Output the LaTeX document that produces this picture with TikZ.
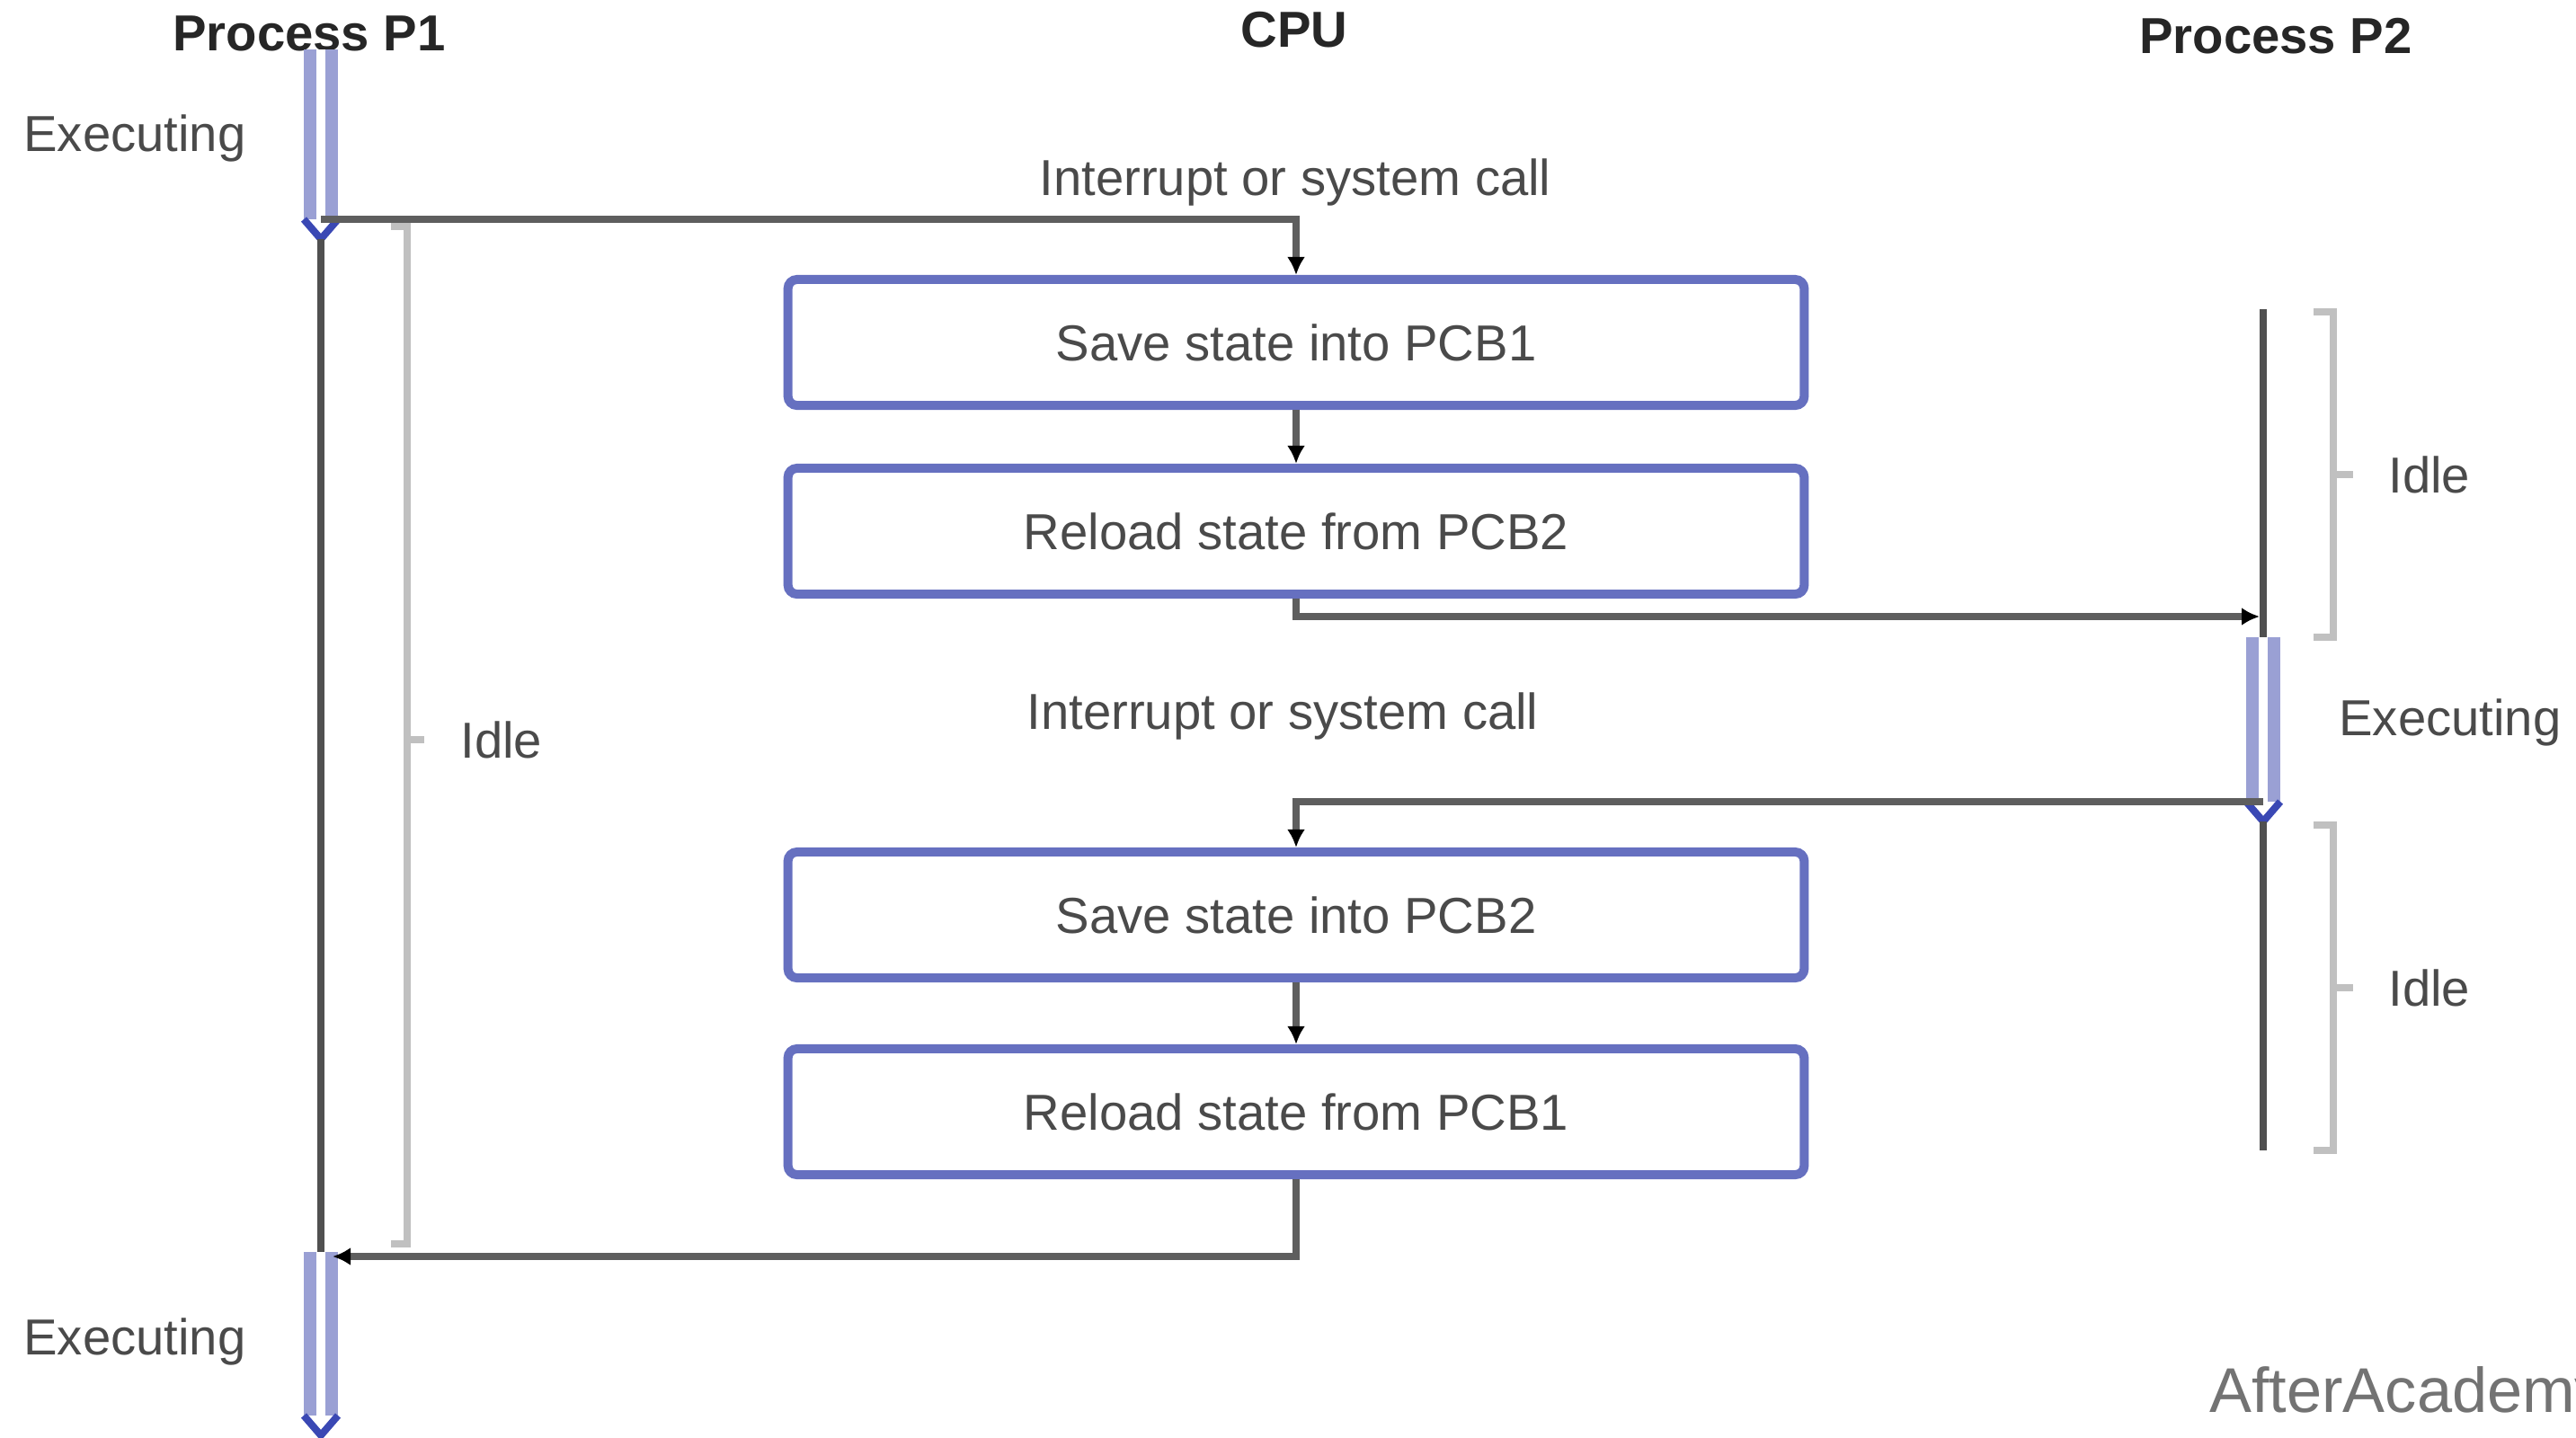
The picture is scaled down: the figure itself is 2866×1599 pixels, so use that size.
\documentclass[tikz,border=0pt]{standalone}
\usepackage{fontspec}
\setmainfont{Liberation Sans}
\usetikzlibrary{arrows.meta}
\definecolor{boxblue}{HTML}{6670C0}
\definecolor{execblue}{HTML}{9AA0D4}
\definecolor{headblue}{HTML}{3A48B4}
\definecolor{linegray}{HTML}{505050}
\definecolor{conngray}{HTML}{5E5E5E}
\definecolor{bracegray}{HTML}{C0C0C0}
\definecolor{textgray}{HTML}{4A4A4A}

\begin{document}
\begin{tikzpicture}[x=0.01cm, y=-0.01cm,
  title/.style={font=\fontsize{16}{19}\selectfont\bfseries, text=black!85},
  txt/.style={font=\fontsize{16}{19}\selectfont, text=textgray},
  box/.style={draw=boxblue, line width=0.1cm, rounded corners=0.1cm, minimum width=11.3cm, minimum height=1.4cm, font=\fontsize{16}{19}\selectfont, text=textgray},
  conn/.style={draw=conngray, line width=0.08cm, -{Latex[length=0.2cm, width=0.2cm, black]}},
  timeline/.style={draw=linegray, line width=0.08cm},
  execline/.style={draw=execblue, line width=0.14cm, double=white, double distance=0.1cm},
  exechead/.style={draw=headblue, line width=0.08cm, line join=miter},
  idlebrace/.style={draw=bracegray, line width=0.08cm}]
  \useasboundingbox (0,0) rectangle (2866,1599);

  % column titles
  \node[title] (p1title) at (344,37) {Process P1};
  \node[title] (cputitle) at (1440,33) {CPU};
  \node[title] (p2title) at (2532,40) {Process P2};

  % process P1
  \coordinate (p1a) at (357,55);
  \coordinate (p1b) at (357,244);
  \coordinate (p1in) at (370,1398);
  \coordinate (p1c) at (357,1398);
  \coordinate (p1d) at (357,1393);
  \coordinate (p1e) at (357,1575);
  \draw[execline] (p1a) -- (p1b);
  \draw[exechead] (p1b) ++(-19,0) -- ++(19,22) -- ++(19,-22);
  \draw[timeline] (357,266) -- (p1c);
  \draw[execline] (p1d) -- (p1e);
  \draw[exechead] (p1e) ++(-19,0) -- ++(19,22) -- ++(19,-22);
  \node[txt] (p1exec1) at (150,154) {Executing};
  \node[txt] (p1exec2) at (150,1493) {Executing};
  \draw[idlebrace] (435,252) -- (453,252) -- (453,1384) -- (435,1384);
  \draw[idlebrace] (453,823) -- (472,823);
  \node[txt, anchor=west] (p1idle) at (500,823) {Idle};

  % cpu
  \node[txt] (irq1) at (1441,203) {Interrupt or system call};
  \node[box] (save1) at (1442,381) {Save state into PCB1};
  \node[box] (reload2) at (1442,591) {Reload state from PCB2};
  \node[txt] (irq2) at (1427,797) {Interrupt or system call};
  \node[box] (save2) at (1442,1018) {Save state into PCB2};
  \node[box] (reload1) at (1442,1237) {Reload state from PCB1};

  % process P2
  \coordinate (p2a) at (2518,344);
  \coordinate (p2b) at (2518,709);
  \coordinate (p2c) at (2518,892);
  \coordinate (p2d) at (2518,1280);
  \coordinate (p2in) at (2514,686);
  \draw[timeline] (p2a) -- (p2b);
  \draw[execline] (p2b) -- (p2c);
  \draw[exechead] (p2c) ++(-19,0) -- ++(19,22) -- ++(19,-22);
  \draw[timeline] (2518,914) -- (p2d);
  \node[txt, anchor=west] (p2exec) at (2590,804) {Executing};
  \draw[idlebrace] (2574,347) -- (2596,347) -- (2596,709) -- (2574,709);
  \draw[idlebrace] (2596,528) -- (2618,528);
  \node[txt, anchor=west] (p2idle1) at (2645,528) {Idle};
  \draw[idlebrace] (2574,918) -- (2596,918) -- (2596,1280) -- (2574,1280);
  \draw[idlebrace] (2596,1099) -- (2618,1099);
  \node[txt, anchor=west] (p2idle2) at (2645,1099) {Idle};

  % switches
  \draw[conn] (p1b) -| (save1.north);
  \draw[conn] (save1) -- (reload2);
  \draw[conn] (reload2.south) |- (p2in);
  \draw[conn] (p2c) -| (save2.north);
  \draw[conn] (save2) -- (reload1);
  \draw[conn] (reload1.south) |- (p1in);

  \node[anchor=west, font=\fontsize{20}{24}\selectfont, text=black!55] (brand) at (2446,1553) {AfterAcademy};
\end{tikzpicture}
\end{document}
